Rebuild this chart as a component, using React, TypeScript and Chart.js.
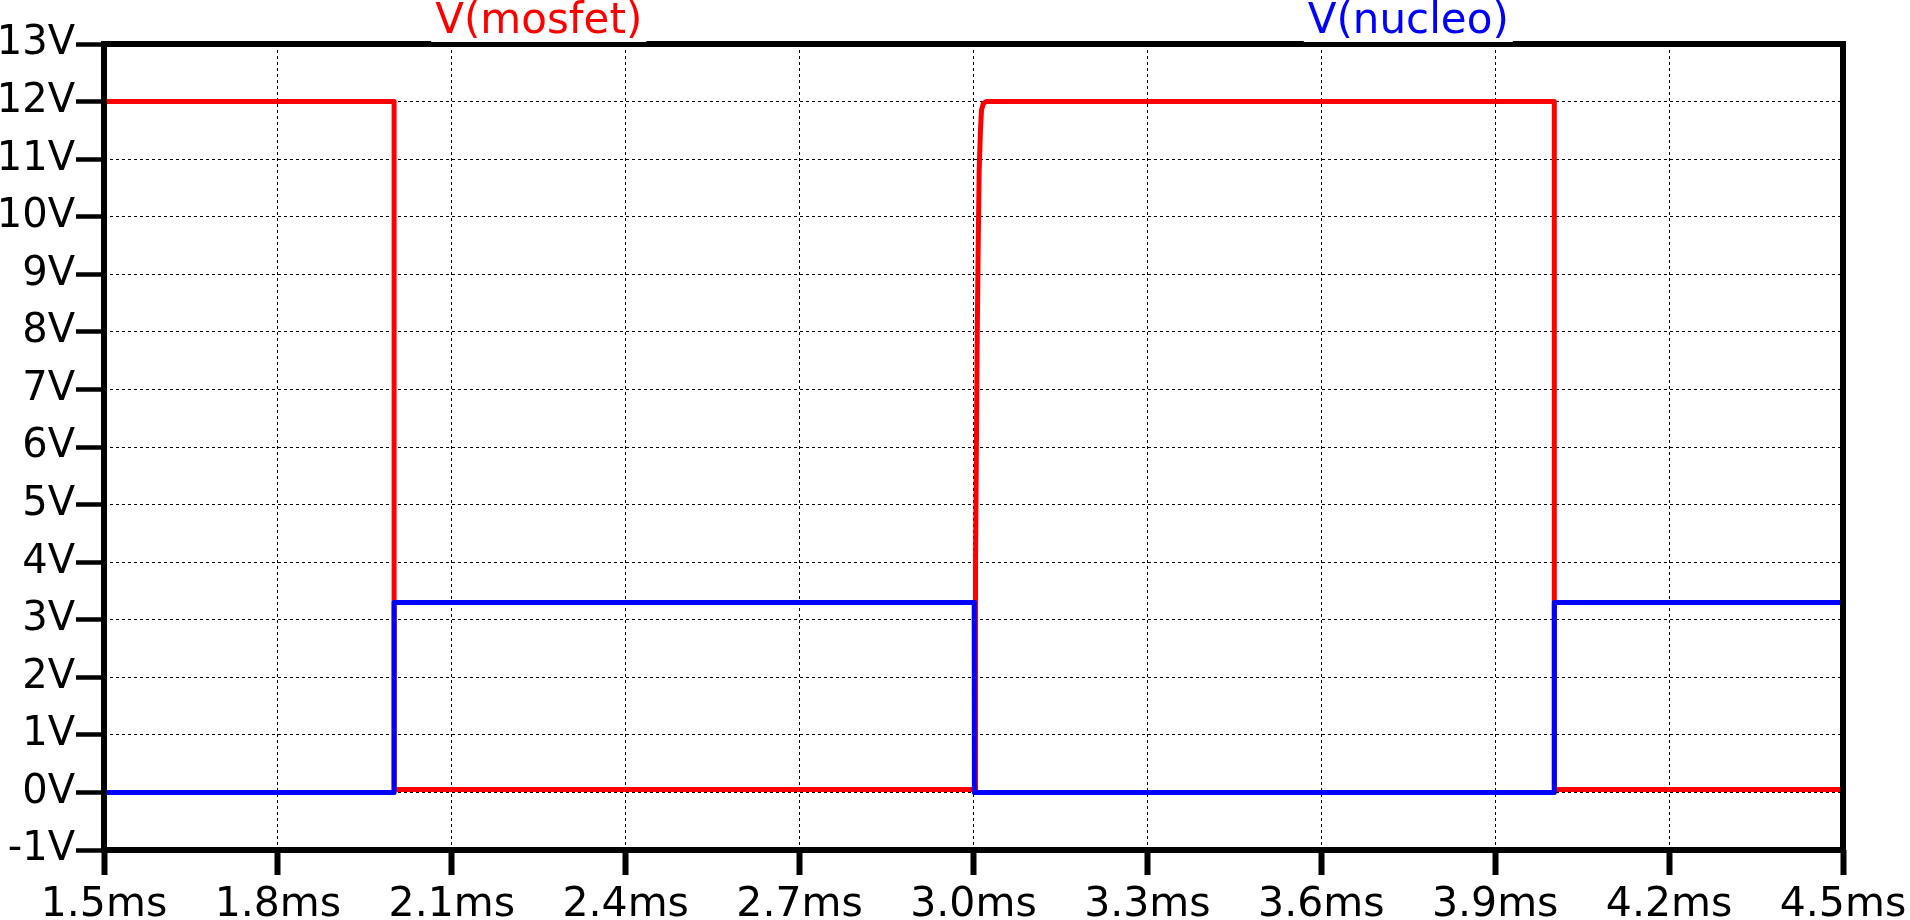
import { useEffect, useRef } from 'react';
import { Chart, registerables } from 'chart.js';

Chart.register(...registerables);

// ---- data ----
const xTickValues = [1.5, 1.8, 2.1, 2.4, 2.7, 3.0, 3.3, 3.6, 3.9, 4.2, 4.5];
const yTickValues = [-1, 0, 1, 2, 3, 4, 5, 6, 7, 8, 9, 10, 11, 12, 13];

const traceNames = ['V(mosfet)', 'V(nucleo)'];
const traceColors = ['#ff0000', '#0000ff'];

// time in ms, voltage in V
const mosfetTime = [1.5, 2.0005, 2.0005, 3.003, 3.0035, 3.005, 3.0065, 3.008, 3.0098, 3.012, 3.0138, 3.017, 3.022, 4.002, 4.002, 4.5];
const mosfetVolts = [12, 12, 0.05, 0.05, 4.0, 6.0, 8.0, 9.4, 10.8, 11.5, 11.85, 11.97, 12, 12, 0.05, 0.05];

const nucleoTime = [1.5, 2.0005, 2.0005, 3.0012, 3.0012, 3.0018, 3.0018, 4.002, 4.002, 4.5];
const nucleoVolts = [0, 0, 3.3, 3.3, 2.4, 2.4, 0, 0, 3.3, 3.3];

const FONT = '"DejaVu Sans", sans-serif';

const framePlugin = {
  id: 'frameAndTraceLabels',
  afterDatasetsDraw(chart: any) {
    const { ctx, chartArea: a } = chart;
    ctx.save();
    ctx.strokeStyle = '#000';
    ctx.lineWidth = 6;
    ctx.lineJoin = 'miter';
    ctx.strokeRect(a.left, a.top, a.right - a.left, a.bottom - a.top);
    ctx.restore();
  },
  afterDraw(chart: any) {
    const { ctx, chartArea: a } = chart;
    const n = traceNames.length;
    ctx.save();
    ctx.font = `42px ${FONT}`;
    ctx.textAlign = 'center';
    ctx.textBaseline = 'alphabetic';
    traceNames.forEach((name, i) => {
      const cx = a.left + ((a.right - a.left) * (2 * i + 1)) / (2 * n);
      const w = ctx.measureText(name).width;
      ctx.fillStyle = '#ffffff';
      ctx.fillRect(cx - w / 2 - 4, 0, w + 8, a.top - 2);
      ctx.fillStyle = traceColors[i];
      ctx.fillText(name, cx, 33);
    });
    ctx.restore();
  },
};

export default function App() {
  const canvasRef = useRef<HTMLCanvasElement | null>(null);

  useEffect(() => {
    document.body.style.margin = '0';
    const canvas = canvasRef.current;
    if (!canvas) return;

    const chart = new Chart(canvas, {
      type: 'line',
      data: {
        datasets: [
          {
            label: traceNames[0],
            data: mosfetTime.map((t, i) => ({ x: t, y: mosfetVolts[i] })),
            borderColor: traceColors[0],
            backgroundColor: traceColors[0],
            borderWidth: 5,
            pointRadius: 0,
            tension: 0,
            fill: false,
            borderJoinStyle: 'round',
            borderCapStyle: 'round',
            order: 1,
          },
          {
            label: traceNames[1],
            data: nucleoTime.map((t, i) => ({ x: t, y: nucleoVolts[i] })),
            borderColor: traceColors[1],
            backgroundColor: traceColors[1],
            borderWidth: 5,
            pointRadius: 0,
            tension: 0,
            fill: false,
            borderJoinStyle: 'round',
            borderCapStyle: 'round',
            order: 0,
          },
        ],
      },
      options: {
        animation: false,
        responsive: true,
        maintainAspectRatio: false,
        devicePixelRatio: 1,
        layout: { padding: { top: 44, right: 67, bottom: 0, left: 0 } },
        plugins: {
          legend: { display: false },
          tooltip: { enabled: false },
        },
        events: [],
        scales: {
          x: {
            type: 'linear',
            min: 1.5,
            max: 4.5,
            afterBuildTicks: (s: any) => {
              s.ticks = xTickValues.map((v) => ({ value: v }));
            },
            afterFit: (s: any) => {
              s.height = 70;
              s.paddingLeft = 0;
              s.paddingRight = 0;
            },
            ticks: {
              autoSkip: false,
              maxRotation: 0,
              minRotation: 0,
              padding: 6,
              color: '#000',
              font: { family: FONT, size: 41 },
              callback: (v: any) => Number(v).toFixed(1) + 'ms',
            },
            grid: {
              color: '#000',
              lineWidth: 1,
              drawTicks: true,
              tickLength: 25,
              tickWidth: 6,
              tickColor: '#000',
            },
            border: { display: false, dash: [3, 3] },
          },
          y: {
            type: 'linear',
            min: -1,
            max: 13,
            afterBuildTicks: (s: any) => {
              s.ticks = yTickValues.map((v) => ({ value: v }));
            },
            afterFit: (s: any) => {
              s.width = 104;
              s.paddingTop = 0;
              s.paddingBottom = 0;
            },
            ticks: {
              autoSkip: false,
              padding: 1,
              color: '#000',
              font: { family: FONT, size: 40 },
              callback: (v: any) => Math.round(Number(v)) + 'V',
            },
            grid: {
              color: '#000',
              lineWidth: 1,
              drawTicks: true,
              tickLength: 28,
              tickWidth: 4.5,
              tickColor: '#000',
            },
            border: { display: false, dash: [3, 3] },
          },
        },
      },
      plugins: [framePlugin],
    } as any);

    return () => {
      chart.destroy();
    };
  }, []);

  return (
    <div
      style={{
        position: 'fixed',
        left: 0,
        top: 0,
        width: '1910px',
        height: '920px',
        background: '#ffffff',
      }}
    >
      <canvas ref={canvasRef} />
    </div>
  );
}
